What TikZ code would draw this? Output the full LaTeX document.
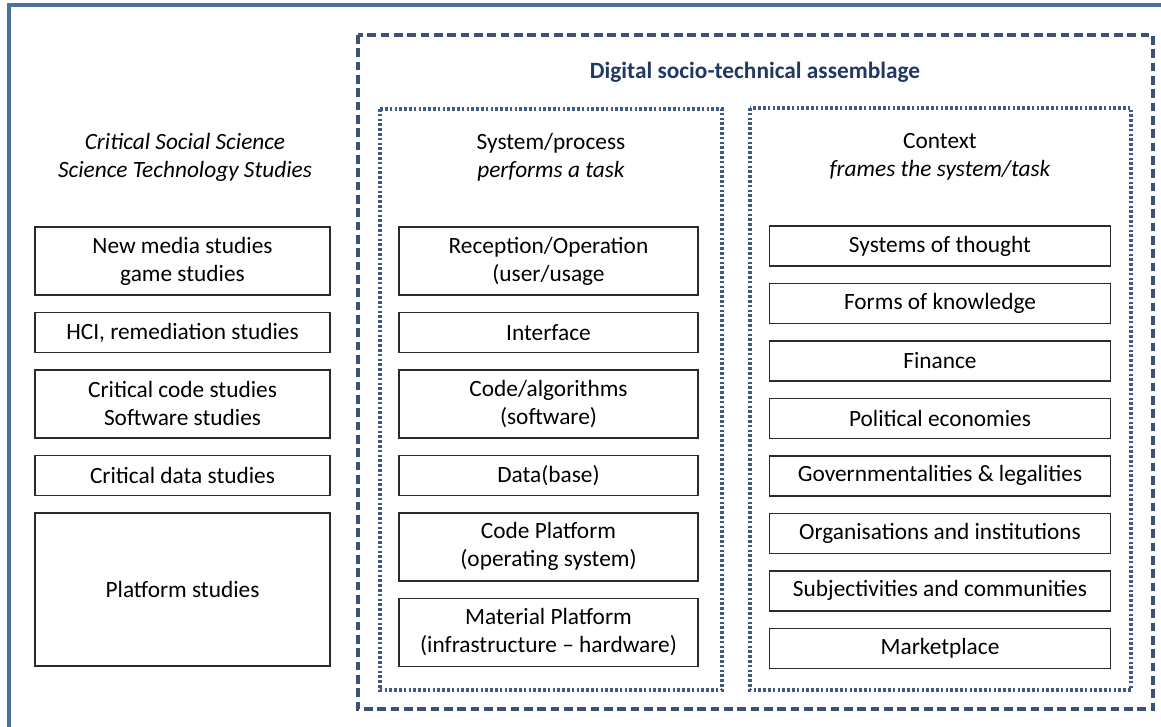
\documentclass[tikz,border=0pt]{standalone}
\usepackage{fontspec}
\setmainfont{Carlito}
\usepackage{tikz}
\usetikzlibrary{positioning}
\definecolor{framecol}{HTML}{4F6F9F}
\definecolor{dashcol}{HTML}{3B5275}
\definecolor{dotcol}{HTML}{3F5A84}
\definecolor{titlecol}{HTML}{1F3864}
\definecolor{boxcol}{HTML}{2B2B2B}
\tikzset{
        txt/.style={align=center, font=\fontsize{17.5}{21}\selectfont},
        base/.style={txt, draw=boxcol, line width=1.1pt, inner sep=2pt},
        lbox/.style={base, minimum width=221pt, minimum height=30pt},
        mbox/.style={base, minimum width=224pt, minimum height=30pt},
        rbox/.style={base, minimum width=256pt, minimum height=30pt},
        twoline/.style={minimum height=51pt},
        head/.style={txt, inner sep=0pt},
        assemblage/.style={dashcol, line width=2.4pt, dash pattern=on 6.5pt off 3.5pt},
        column/.style={dotcol, line width=2.4pt, dash pattern=on 2pt off 1.6pt},
 }
\begin{document}
\begin{tikzpicture}[x=0.75pt, y=-0.75pt, node distance=12pt]
    \useasboundingbox (0,0) rectangle (1161,727);
    \draw[framecol, line width=3pt] (9,5) rectangle (1180,745);
    \draw[assemblage] (358,35) rectangle (1153,709);
    \draw[column] (380,109) rectangle (722,690);
    \draw[column] (750,108) rectangle (1131,690);

    % headings
    \node[head, text=titlecol, font=\fontsize{17.5}{21}\selectfont\bfseries]
         (title) at (755,72) {Digital socio-technical assemblage};
    \node[head] (crit) at (185,157) {\textit{Critical Social Science}\\
                                     \textit{Science Technology Studies}};
    \node[head] (sys) at (551,157) {System/process\\\textit{performs a task}};
    \node[head] (ctx) at (940,157) {Context\\\textit{frames the system/task}};

    % fields of study
    \node[lbox, twoline] (nms) at (182.5,261) {New media studies\\game studies};
    \node[lbox, below=of nms] (hci) {HCI, remediation studies};
    \node[lbox, twoline, below=of hci] (ccs) {Critical code studies\\Software studies};
    \node[lbox, below=of ccs] (cds) {Critical data studies};
    \node[lbox, below=of cds, minimum height=115pt] (ps) {Platform studies};

    % system/process
    \node[mbox, twoline] (rec) at (548.5,261) {Reception/Operation\\(user/usage};
    \node[mbox, below=of rec] (intf) {Interface};
    \node[mbox, twoline, below=of intf] (code) {Code/algorithms\\(software)};
    \node[mbox, below=of code] (data) {Data(base)};
    \node[mbox, twoline, below=of data] (cplat) {Code Platform\\(operating system)};
    \node[mbox, twoline, below=of cplat] (mplat) {Material Platform\\(infrastructure -- hardware)};

    % context
    \node[rbox] (thought) at (940,246) {Systems of thought};
    \node[rbox, below=of thought] (know) {Forms of knowledge};
    \node[rbox, below=of know] (fin) {Finance};
    \node[rbox, below=of fin] (pol) {Political economies};
    \node[rbox, below=of pol] (gov) {Governmentalities \& legalities};
    \node[rbox, below=of gov] (org) {Organisations and institutions};
    \node[rbox, below=of org] (subj) {Subjectivities and communities};
    \node[rbox, below=of subj] (mkt) {Marketplace};

\end{tikzpicture}
\end{document}
